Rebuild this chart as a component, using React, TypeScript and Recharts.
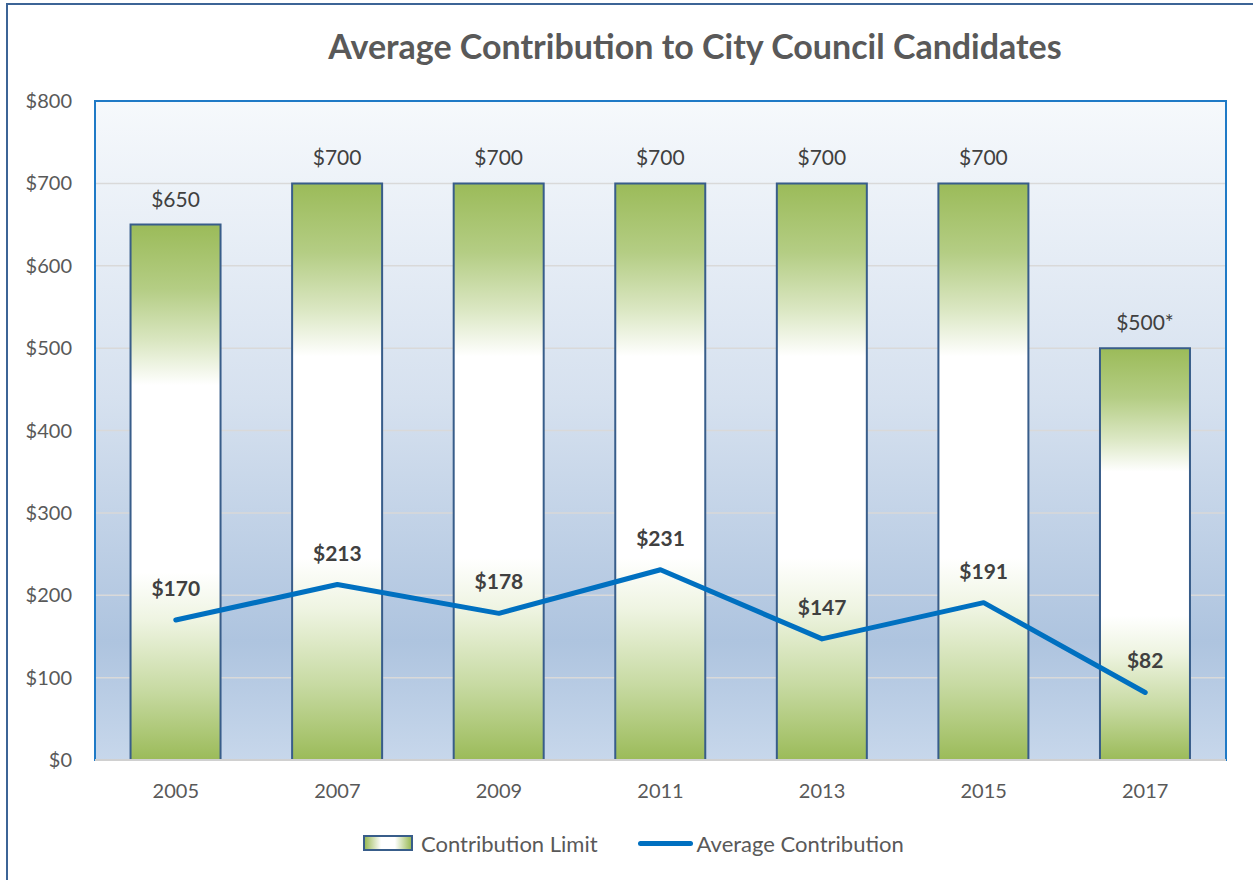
import { type ReactElement } from 'react';

import {
  Bar,
  CartesianGrid,
  ComposedChart,
  LabelList,
  Line,
  ReferenceArea,
  XAxis,
  YAxis,
} from 'recharts';

const years = ['2005', '2007', '2009', '2011', '2013', '2015', '2017'];
const contributionLimit = [650, 700, 700, 700, 700, 700, 500];
const limitLabels = ['$650', '$700', '$700', '$700', '$700', '$700', '$500*'];
const averageContribution = [170, 213, 178, 231, 147, 191, 82];
const yTicks = [0, 100, 200, 300, 400, 500, 600, 700, 800];

const data = years.map((year, i) => ({
  year,
  limit: contributionLimit[i],
  limitLabel: limitLabels[i],
  average: averageContribution[i],
}));

const FONT = 'Lato, "Open Sans", sans-serif';
const TEXT = '#595959';
const LABEL = '#404040';
const LINE_BLUE = '#0070c0';
const BAR_EDGE = '#385d8a';

/** Combined column + line chart of council contribution limits vs averages. */
export default function App(): ReactElement {
  return (
    <div
      style={{
        position: 'absolute',
        left: 0,
        top: 0,
        width: 1253,
        height: 880,
        background: '#fff',
        fontFamily: FONT,
        overflow: 'hidden',
      }}
    >
      <style>{'body{margin:0}'}</style>
      {/* outer chart frame, only left/top edges are visible in the crop */}
      <div
        style={{
          position: 'absolute',
          left: 6,
          top: 3,
          width: 1300,
          height: 900,
          borderLeft: '2px solid #3c6496',
          borderTop: '2px solid #3c6496',
        }}
      />
      <div
        style={{
          position: 'absolute',
          left: 0,
          width: 1390,
          top: 25,
          textAlign: 'center',
          fontSize: 34,
          fontWeight: 700,
          color: TEXT,
        }}
      >
        Average Contribution to City Council Candidates
      </div>

      <ComposedChart
        width={1253}
        height={880}
        data={data}
        margin={{ top: 101, right: 27, bottom: 80, left: 15 }}
        barCategoryGap="22%"
      >
        <defs>
          <linearGradient id="plotBg" x1="0" y1="0" x2="0" y2="1">
            <stop offset="0" stopColor="#f6f9fc" />
            <stop offset="0.45" stopColor="#d6e1ef" />
            <stop offset="0.82" stopColor="#aec4df" />
            <stop offset="1" stopColor="#c7d7eb" />
          </linearGradient>
          <linearGradient id="barFill" x1="0" y1="0" x2="0" y2="1">
            <stop offset="0" stopColor="#9bbb59" />
            <stop offset="0.12" stopColor="#b4cd84" />
            <stop offset="0.22" stopColor="#dbe7c3" />
            <stop offset="0.3" stopColor="#ffffff" />
            <stop offset="0.65" stopColor="#ffffff" />
            <stop offset="0.74" stopColor="#eef4e1" />
            <stop offset="0.87" stopColor="#c7daa2" />
            <stop offset="1" stopColor="#9bbb59" />
          </linearGradient>
        </defs>
        <CartesianGrid
          vertical={false}
          stroke="#d9d9d9"
          strokeWidth={1.5}
          fill="url(#plotBg)"
          fillOpacity={1}
        />
        <XAxis
          dataKey="year"
          axisLine={{ stroke: '#d0d0d0', strokeWidth: 2 }}
          tickLine={false}
          height={40}
          tick={{ fill: TEXT, fontSize: 20, fontFamily: FONT, dy: 16 }}
        />
        <YAxis
          domain={[0, 800]}
          ticks={yTicks}
          width={80}
          axisLine={false}
          tickLine={false}
          tickFormatter={(v: number) => `$${v}`}
          tick={{ fill: TEXT, fontSize: 20, fontFamily: FONT, dx: -15 }}
        />
        <ReferenceArea
          y1={0}
          y2={800}
          fill="none"
          stroke="#1f7ac6"
          strokeWidth={2}
          ifOverflow="visible"
        />
        <Bar
          dataKey="limit"
          fill="url(#barFill)"
          stroke={BAR_EDGE}
          strokeWidth={2}
          isAnimationActive={false}
        >
          <LabelList
            dataKey="limitLabel"
            position="top"
            offset={18}
            fill={LABEL}
            fontSize={21}
            fontFamily={FONT}
          />
        </Bar>
        <Line
          dataKey="average"
          stroke={LINE_BLUE}
          strokeWidth={5}
          strokeLinecap="round"
          strokeLinejoin="round"
          dot={false}
          activeDot={false}
          isAnimationActive={false}
        >
          <LabelList
            dataKey="average"
            position="top"
            offset={24}
            fill={LABEL}
            fontSize={21}
            fontWeight={700}
            fontFamily={FONT}
            formatter={(v: number) => `$${v}`}
          />
        </Line>
      </ComposedChart>

      {/* legend */}
      <div
        style={{
          position: 'absolute',
          left: 363,
          top: 829,
          display: 'flex',
          alignItems: 'center',
          fontSize: 22,
          color: TEXT,
          height: 28,
        }}
      >
        <span
          style={{
            display: 'inline-block',
            width: 46,
            height: 12,
            border: `2px solid ${BAR_EDGE}`,
            background:
              'linear-gradient(to right, #9bbb59 0%, #ffffff 35%, #ffffff 65%, #9bbb59 100%)',
            marginRight: 8,
          }}
        />
        <span>Contribution Limit</span>
        <span
          style={{
            display: 'inline-block',
            width: 55,
            height: 5,
            borderRadius: 3,
            background: LINE_BLUE,
            marginLeft: 40,
            marginRight: 4,
          }}
        />
        <span>Average Contribution</span>
      </div>
    </div>
  );
}
